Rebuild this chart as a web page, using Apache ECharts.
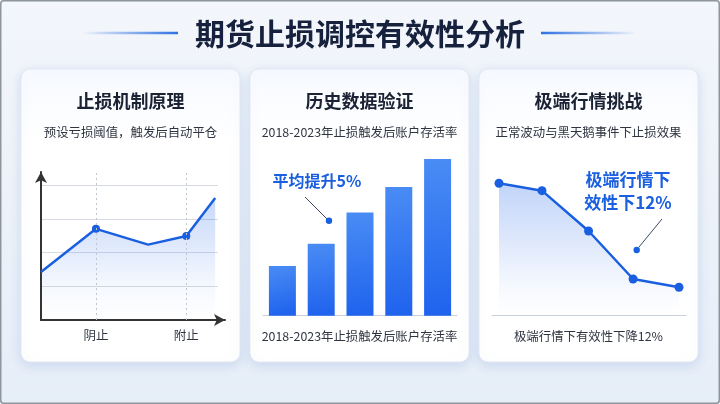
<!DOCTYPE html>
<html><head><meta charset="utf-8">
<script src="https://cdn.jsdelivr.net/npm/echarts@6/dist/echarts.min.js"></script>
<style>html,body{margin:0;padding:0;background:#eef3f9}#c{width:720px;height:404px}</style>
</head><body><div id="c"></div>
<script>
// ---- Data ----
var mainTitle = '期货止损调控有效性分析';
var cardTitles = ['止损机制原理', '历史数据验证', '极端行情挑战'];
var cardSubtitles = ['预设亏损阈值，触发后自动平仓', '2018-2023年止损触发后账户存活率', '正常波动与黑天鹅事件下止损效果'];
var cardFooters = ['', '2018-2023年止损触发后账户存活率', '极端行情下有效性下降12%'];

// card 1: price path (x position, price level)
var priceX = [0, 2.95, 5.75, 7.8, 9.35];
var priceY = [1.43, 2.71, 2.24, 2.5, 3.63];
var priceMarked = [false, true, false, true, false];
var stopX = [2.95, 7.8];
var stopLabels = ['阴止', '附止'];

// card 2: survival rate bars
var barCategories = ['2018', '2019', '2020', '2022', '2023'];
var barValues = [31, 45, 64.5, 80.5, 98];
var barNote = '平均提升5%';

// card 3: effectiveness under market regimes
var effX = [0, 0.955, 1.99, 2.98, 4];
var effY = [87.8, 82.9, 56, 24, 18.5];
var effNote = '极端行情下\n效性下12%';

var FONT = '"Noto Sans CJK SC","Noto Sans",sans-serif';
var BLUE = '#1a5fe0';

var chart = echarts.init(document.getElementById('c'), null, {renderer: 'canvas'});

var cards = [[21, 69], [250, 69], [479, 69]];
var cardW = 219, cardH = 293;
var graphics = [];

// outer frame
graphics.push({type: 'rect', shape: {x: 0.75, y: 0.75, width: 718.5, height: 402.5, r: 3},
  style: {fill: 'none', stroke: '#8f959d', lineWidth: 1.5}, z: 100});
// title decoration lines
graphics.push({type: 'line', shape: {x1: 84, y1: 33, x2: 178, y2: 33},
  style: {lineWidth: 2.5, stroke: new echarts.graphic.LinearGradient(0, 0, 1, 0, [{offset: 0, color: 'rgba(42,109,224,0)'}, {offset: 1, color: '#2a6de0'}])}});
graphics.push({type: 'line', shape: {x1: 541, y1: 33, x2: 635, y2: 33},
  style: {lineWidth: 2.5, stroke: new echarts.graphic.LinearGradient(0, 0, 1, 0, [{offset: 0, color: '#2a6de0'}, {offset: 1, color: 'rgba(42,109,224,0)'}])}});
graphics.push({type: 'text', x: 360, y: 34, style: {text: mainTitle, font: 'bold 30px ' + FONT, fill: '#16213e', align: 'center', verticalAlign: 'middle'}});

cards.forEach(function (c, i) {
  graphics.push({type: 'rect', shape: {x: c[0], y: c[1], width: cardW, height: cardH, r: 9},
    style: {fill: new echarts.graphic.LinearGradient(0, 0, 0, 1, [{offset: 0, color: '#f7faff'}, {offset: 0.25, color: '#ffffff'}, {offset: 1, color: '#ffffff'}]),
      stroke: '#e2e9f3', lineWidth: 1, shadowBlur: 12, shadowOffsetY: 3, shadowColor: 'rgba(90,130,200,0.22)'}, z: -10});
  var cx = c[0] + cardW / 2;
  graphics.push({type: 'text', x: cx, y: 101, style: {text: cardTitles[i], font: 'bold 18px ' + FONT, fill: '#1a2233', align: 'center', verticalAlign: 'middle'}});
  graphics.push({type: 'text', x: cx, y: 132, style: {text: cardSubtitles[i], font: '12.4px ' + FONT, fill: '#2f3540', align: 'center', verticalAlign: 'middle'}});
  if (cardFooters[i]) {
    graphics.push({type: 'text', x: cx, y: 336, style: {text: cardFooters[i], font: '12.4px ' + FONT, fill: '#2f3540', align: 'center', verticalAlign: 'middle'}});
  }
});

// annotations
graphics.push({type: 'text', x: 317, y: 181, style: {text: barNote, font: 'bold 16px ' + FONT, fill: BLUE, align: 'center', verticalAlign: 'middle'}});
graphics.push({type: 'line', shape: {x1: 305, y1: 197, x2: 327, y2: 219}, style: {stroke: '#3a4a66', lineWidth: 1}});
graphics.push({type: 'circle', shape: {cx: 329, cy: 220.7, r: 3.2}, style: {fill: BLUE}});

graphics.push({type: 'text', x: 628, y: 191, style: {text: effNote, font: 'bold 17px ' + FONT, fill: BLUE, align: 'center', verticalAlign: 'middle', lineHeight: 23}});
graphics.push({type: 'line', shape: {x1: 662, y1: 219, x2: 639, y2: 247}, style: {stroke: '#3a4a66', lineWidth: 1}});
graphics.push({type: 'circle', shape: {cx: 636.7, cy: 250, r: 3.2}, style: {fill: BLUE}});

function hiddenAxis(extra) {
  return Object.assign({show: true, axisLine: {show: false}, axisTick: {show: false}, axisLabel: {show: false}, splitLine: {show: false}}, extra);
}

var option = {
  backgroundColor: new echarts.graphic.LinearGradient(0, 0, 0, 1, [{offset: 0, color: '#f3f6fb'}, {offset: 1, color: '#e6eef8'}]),
  animation: false,
  graphic: graphics,
  grid: [
    {left: 41, top: 172, width: 184, height: 148},
    {left: 41, top: 172, width: 177, height: 148},
    {left: 263, top: 155.7, width: 194, height: 160},
    {left: 499, top: 165, width: 180, height: 150},
    {left: 492, top: 165, width: 194, height: 150}
  ],
  xAxis: [
    {gridIndex: 0, type: 'value', min: 0, max: 1, axisLine: {show: true, symbol: ['none', 'arrow'], symbolSize: [9, 11], lineStyle: {color: '#333', width: 2}}, axisTick: {show: false}, axisLabel: {show: false}, splitLine: {show: false}},
    hiddenAxis({gridIndex: 1, type: 'value', min: 0, max: 9.5}),
    {gridIndex: 2, type: 'category', data: barCategories, axisLine: {show: true, lineStyle: {color: '#c9d0da', width: 1}}, axisTick: {show: false}, axisLabel: {show: false}},
    hiddenAxis({gridIndex: 3, type: 'value', min: 0, max: 4}),
    {gridIndex: 4, type: 'value', min: 0, max: 1, axisLine: {show: true, lineStyle: {color: '#c9d0da', width: 1}}, axisTick: {show: false}, axisLabel: {show: false}, splitLine: {show: false}}
  ],
  yAxis: [
    {gridIndex: 0, type: 'value', min: 0, max: 1, axisLine: {show: true, symbol: ['none', 'arrow'], symbolSize: [9, 11], lineStyle: {color: '#333', width: 2}}, axisTick: {show: false}, axisLabel: {show: false}, splitLine: {show: false}},
    {gridIndex: 1, type: 'value', min: 0, max: 4.4, interval: 1, axisLine: {show: false}, axisTick: {show: false}, axisLabel: {show: false},
      splitLine: {show: true, showMinLine: false, showMaxLine: false, lineStyle: {color: '#d6dbe3', width: 1}}},
    hiddenAxis({gridIndex: 2, type: 'value', min: 0, max: 100}),
    hiddenAxis({gridIndex: 3, type: 'value', min: 0, max: 100}),
    hiddenAxis({gridIndex: 4, type: 'value', min: 0, max: 1})
  ],
  series: [
    {
      type: 'line', xAxisIndex: 1, yAxisIndex: 1,
      data: priceX.map(function (x, i) {
        return priceMarked[i] ? {value: [x, priceY[i]], symbol: 'circle', symbolSize: 8} : {value: [x, priceY[i]], symbol: 'none'};
      }),
      lineStyle: {color: BLUE, width: 2.5},
      itemStyle: {color: BLUE},
      areaStyle: {color: new echarts.graphic.LinearGradient(0, 0, 0, 1, [{offset: 0, color: 'rgba(45,110,235,0.38)'}, {offset: 0.75, color: 'rgba(45,110,235,0.06)'}, {offset: 1, color: 'rgba(45,110,235,0)'}])},
      markLine: {
        silent: true, symbol: ['none', 'none'],
        lineStyle: {type: [2, 3], color: '#bfc5ce', width: 1},
        label: {show: true, position: 'start', distance: 9, color: '#2f3540', fontSize: 12.5, fontFamily: FONT},
        data: stopX.map(function (x, i) { return {xAxis: x, label: {formatter: stopLabels[i]}}; })
      },
      z: 3
    },
    {
      type: 'bar', xAxisIndex: 2, yAxisIndex: 2, data: barValues, barWidth: 27,
      itemStyle: {color: new echarts.graphic.LinearGradient(0, 0, 0.4, 1, [{offset: 0, color: '#4a8cf4'}, {offset: 1, color: '#1f63ee'}])}
    },
    {
      type: 'line', xAxisIndex: 3, yAxisIndex: 3,
      data: effX.map(function (x, i) { return [x, effY[i]]; }),
      symbol: 'circle', symbolSize: 9, showSymbol: true,
      lineStyle: {color: BLUE, width: 2.5},
      itemStyle: {color: BLUE},
      areaStyle: {color: new echarts.graphic.LinearGradient(0, 0, 0, 1, [{offset: 0, color: 'rgba(45,110,235,0.42)'}, {offset: 0.8, color: 'rgba(45,110,235,0.06)'}, {offset: 1, color: 'rgba(45,110,235,0)'}])}
    }
  ]
};
chart.setOption(option);
</script></body></html>
